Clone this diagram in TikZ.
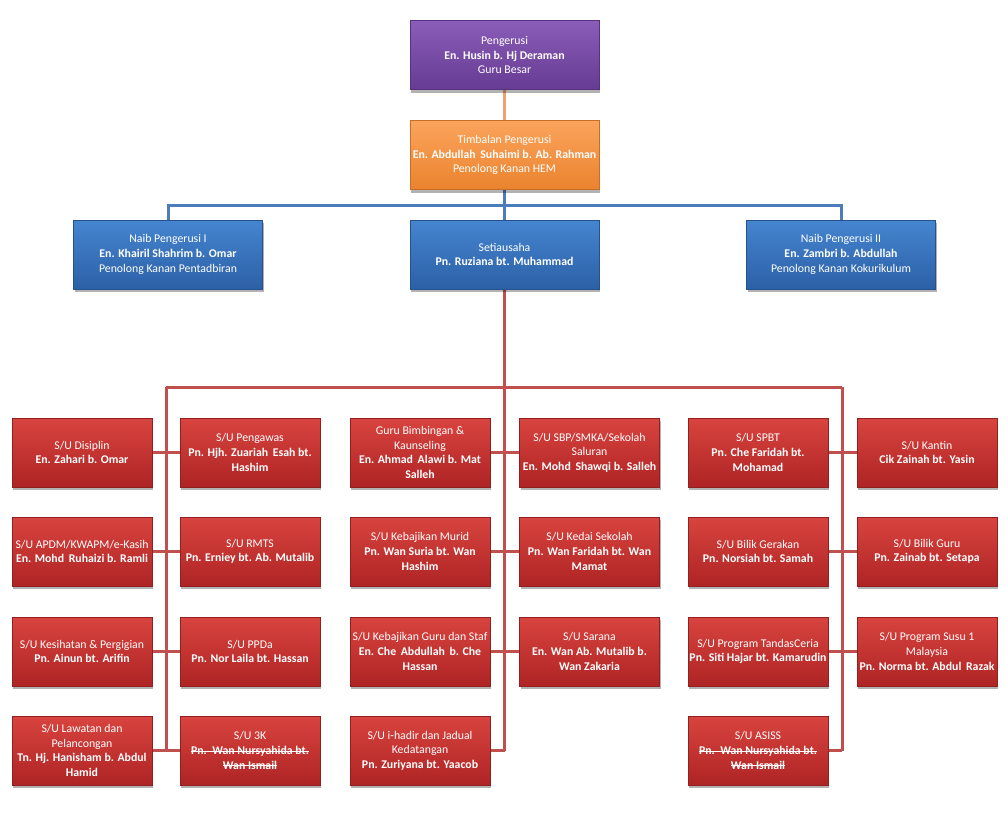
\documentclass[tikz,border=0pt]{standalone}
\usepackage{fontspec}
\setmainfont{Carlito}
\usetikzlibrary{shadows,backgrounds}
\newcommand{\strikeline}[1]{\leavevmode\setbox0\hbox{#1}\rlap{\rule[0.55ex]{\wd0}{0.7pt}}\box0}
\definecolor{purT}{HTML}{8A5DB8}\definecolor{purB}{HTML}{663B93}
\definecolor{orT}{HTML}{FBA45C}\definecolor{orB}{HTML}{EA832E}
\definecolor{bluT}{HTML}{4585D0}\definecolor{bluB}{HTML}{2C60A6}
\definecolor{redT}{HTML}{D8443F}\definecolor{redB}{HTML}{AE2424}
\definecolor{olin}{HTML}{EEA36E}\definecolor{blin}{HTML}{4A7DBA}\definecolor{rlin}{HTML}{C0504D}
\tikzset{
  box/.style={rectangle, minimum width=189pt, minimum height=69pt, align=center, inner sep=1pt,
    text=white, font=\fontsize{11.8}{14.6}\selectfont,
    drop shadow={shadow xshift=1.2pt, shadow yshift=-3pt, opacity=0.3, fill=black}},
  pbox/.style={box, top color=purT, bottom color=purB, draw=purB!85!black, line width=0.5pt},
  obox/.style={box, top color=orT, bottom color=orB, draw=orB!85!black, line width=0.5pt},
  bbox/.style={box, top color=bluT, bottom color=bluB, draw=bluB!85!black, line width=0.5pt},
  rbox/.style={box, minimum width=140pt, top color=redT, bottom color=redB, draw=redB!85!black, line width=0.5pt},
  oline/.style={draw=olin, line width=3pt},
  bline/.style={draw=blin, line width=3pt},
  rline/.style={draw=rlin, line width=3pt},
}
\begin{document}
\begin{tikzpicture}[x=1pt,y=-1pt]
\useasboundingbox (0,0) rectangle (1008,817);
\node[pbox] (peng) at (504.5,55) {Pengerusi\\\textbf{En. Husin b. Hj Deraman}\\Guru Besar};
\node[obox] (tim) at (504.5,155) {Timbalan Pengerusi\\\textbf{En. Abdullah\, Suhaimi b. Ab. Rahman}\\Penolong Kanan HEM};
\node[bbox] (naib1) at (168,254.5) {Naib Pengerusi I\\\textbf{En. Khairil Shahrim b. Omar}\\Penolong Kanan Pentadbiran};
\node[bbox] (sec) at (504.5,254.5) {Setiausaha\\\textbf{Pn. Ruziana bt. Muhammad}};
\node[bbox] (naib2) at (841,254.5) {Naib Pengerusi II\\\textbf{En. Zambri b. Abdullah}\\Penolong Kanan Kokurikulum};
% row 1
\node[rbox] (a1) at (82,452.5) {S/U Disiplin\\\textbf{En. Zahari b. Omar}};
\node[rbox] (b1) at (250,452.5) {S/U Pengawas\\\textbf{Pn. Hjh. Zuariah\, Esah bt.}\\\textbf{Hashim}};
\node[rbox] (c1) at (420,452.5) {Guru Bimbingan \&\\Kaunseling\\\textbf{En. Ahmad\, Alawi b. Mat}\\\textbf{Salleh}};
\node[rbox] (d1) at (589.5,452.5) {S/U SBP/SMKA/Sekolah\\Saluran\\\textbf{En. Mohd\, Shawqi b. Salleh}};
\node[rbox] (e1) at (758,452.5) {S/U SPBT\\\textbf{Pn. Che Faridah bt.}\\\textbf{Mohamad}};
\node[rbox] (f1) at (927,452.5) {S/U Kantin\\\textbf{Cik Zainah bt. Yasin}};
% row 2
\node[rbox] (a2) at (82,551.5) {S/U APDM/KWAPM/e-Kasih\\\textbf{En. Mohd\, Ruhaizi b. Ramli}};
\node[rbox] (b2) at (250,551.5) {S/U RMTS\\\textbf{Pn. Erniey bt. Ab. Mutalib}};
\node[rbox] (c2) at (420,551.5) {S/U Kebajikan Murid\\\textbf{Pn. Wan Suria bt. Wan}\\\textbf{Hashim}};
\node[rbox] (d2) at (589.5,551.5) {S/U Kedai Sekolah\\\textbf{Pn. Wan Faridah bt. Wan}\\\textbf{Mamat}};
\node[rbox] (e2) at (758,551.5) {S/U Bilik Gerakan\\\textbf{Pn. Norsiah bt. Samah}};
\node[rbox] (f2) at (927,551.5) {S/U Bilik Guru\\\textbf{Pn. Zainab bt. Setapa}};
% row 3
\node[rbox] (a3) at (82,651.5) {S/U Kesihatan \& Pergigian\\\textbf{Pn. Ainun bt. Arifin}};
\node[rbox] (b3) at (250,651.5) {S/U PPDa\\\textbf{Pn. Nor Laila bt. Hassan}};
\node[rbox] (c3) at (420,651.5) {S/U Kebajikan Guru dan Staf\\\textbf{En. Che\, Abdullah\, b. Che}\\\textbf{Hassan}};
\node[rbox] (d3) at (589.5,651.5) {S/U Sarana\\\textbf{En. Wan Ab. Mutalib b.}\\\textbf{Wan Zakaria}};
\node[rbox] (e3) at (758,651.5) {S/U Program TandasCeria\\\textbf{Pn. Siti Hajar bt. Kamarudin}};
\node[rbox] (f3) at (927,651.5) {S/U Program Susu 1\\Malaysia\\\textbf{Pn. Norma bt. Abdul\, Razak}};
% row 4
\node[rbox] (a4) at (82,750.5) {S/U Lawatan dan\\Pelancongan\\\textbf{Tn. Hj. Hanisham b. Abdul}\\\textbf{Hamid}};
\node[rbox] (b4) at (250,750.5) {S/U 3K\\\strikeline{\textbf{Pn.\, Wan Nursyahida bt.}}\\\strikeline{\textbf{Wan Ismail}}};
\node[rbox] (c4) at (420,750.5) {S/U i-hadir dan Jadual\\Kedatangan\\\textbf{Pn. Zuriyana bt. Yaacob}};
\node[rbox] (e4) at (758,750.5) {S/U ASISS\\\strikeline{\textbf{Pn.\, Wan Nursyahida bt.}}\\\strikeline{\textbf{Wan Ismail}}};
% connectors
\coordinate (bbus) at (504.5,205);
\coordinate (rbL) at (166,387);
\coordinate (rbM) at (504.5,387);
\coordinate (rbR) at (842,387);
\begin{pgfonlayer}{background}
\draw[oline] (peng.south) -- (tim.north);
\draw[bline] (tim.south) -- (sec.north);
\draw[bline] (naib1.north) -- (naib1.north |- bbus) -- (naib2.north |- bbus) -- (naib2.north);
\draw[rline] (sec.south) -- (rbM);
\draw[rline] (rbL) -- (rbR);
\draw[rline] (rbL) -- (rbL |- a4.east);
\draw[rline] (rbM) -- (rbM |- c4.east);
\draw[rline] (rbR) -- (rbR |- e4.east);
\draw[rline] (a1.east) -- (b1.west);
\draw[rline] (a2.east) -- (b2.west);
\draw[rline] (a3.east) -- (b3.west);
\draw[rline] (a4.east) -- (b4.west);
\draw[rline] (c1.east) -- (d1.west);
\draw[rline] (c2.east) -- (d2.west);
\draw[rline] (c3.east) -- (d3.west);
\draw[rline] (c4.east) -- (rbM |- c4.east);
\draw[rline] (e1.east) -- (f1.west);
\draw[rline] (e2.east) -- (f2.west);
\draw[rline] (e3.east) -- (f3.west);
\draw[rline] (e4.east) -- (rbR |- e4.east);
\end{pgfonlayer}
\end{tikzpicture}
\end{document}
